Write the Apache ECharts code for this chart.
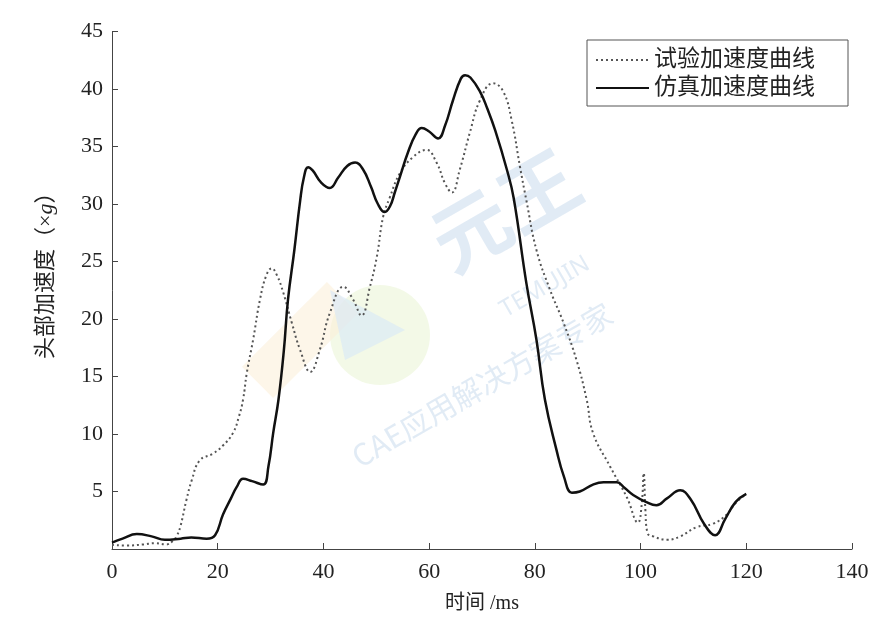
<!DOCTYPE html>
<html>
<head>
<meta charset="utf-8">
<script src="https://cdn.jsdelivr.net/npm/echarts@6/dist/echarts.min.js"></script>
<style>html,body{margin:0;padding:0;background:#fff;}#c{width:893px;height:640px;}</style>
</head>
<body>
<div id="c"></div>
<script>
// ---- data ----
const seriesNames = ['试验加速度曲线', '仿真加速度曲线'];
const xTicks = [0, 20, 40, 60, 80, 100, 120, 140];
const yTicks = [5, 10, 15, 20, 25, 30, 35, 40, 45];

const testTime = [0, 3, 6, 8, 10.3, 11.5, 12.2, 12.9, 14.1, 15.1, 16.6, 19.1, 21, 22.9, 24, 24.8, 25.5, 26.7, 28, 29.2, 30.2, 31.2, 32.4, 34, 35.6, 37.5, 39.3, 41.2, 43.8, 45.6, 47.2, 48.8, 50.1, 51.3, 52.5, 54.5, 57, 59.5, 61.4, 63, 64.3, 65.8, 67.7, 69.6, 72.1, 74, 75.6, 77.2, 78.4, 80.3, 82.9, 85.4, 87.9, 89.8, 91, 94.2, 97.4, 99.5, 100.2, 100.6, 100.9, 101.3, 102.4, 105, 107.5, 110.6, 113.7, 116.3, 118, 120];
const testAccel = [0.35, 0.3, 0.4, 0.5, 0.4, 0.7, 1.1, 1.9, 4.3, 6.0, 7.7, 8.3, 9.0, 10.1, 11.5, 13, 15.3, 18.2, 21.7, 23.8, 24.4, 23.8, 22.3, 19.7, 17.3, 15.4, 17.3, 20.5, 22.8, 21.7, 20.3, 22.8, 25.4, 28.9, 30.5, 32.7, 34.1, 34.7, 33.6, 31.8, 31.0, 33, 36.2, 39, 40.5, 39.8, 37.3, 33.2, 30.3, 26, 22.5, 19.7, 16.4, 13.0, 10.1, 7.2, 4.5, 2.3, 3.8, 6.6, 3.5, 1.4, 1.1, 0.8, 1.1, 1.9, 2.2, 3.0, 4.0, 4.8];

const simTime = [0, 2, 4.7, 7.5, 10, 13, 15, 17.9, 19.5, 21, 22.5, 23.6, 24.8, 26.5, 28.6, 29.6, 30.5, 31.5, 32.5, 33.3, 34.5, 35.6, 36.3, 37.1, 38, 39.5, 41.2, 42.8, 44.5, 46, 47.5, 49, 50.3, 51.6, 52.6, 53.5, 54.5, 56, 57.5, 58.6, 60, 61.7, 63, 64.5, 66, 66.8, 67.8, 69.6, 71, 72.5, 74.7, 76, 78.4, 80.3, 81.9, 84.1, 85.5, 87, 88.5, 91, 93, 95.5, 97, 98.6, 101, 103, 105, 107.5, 109.5, 112, 114.1, 116, 118, 120];
const simAccel = [0.55, 0.9, 1.3, 1.1, 0.8, 0.9, 1.0, 0.9, 1.2, 3.0, 4.4, 5.4, 6.1, 5.9, 5.6, 7.2, 10.1, 13, 17.2, 21.7, 26, 30.3, 32.3, 33.2, 32.9, 31.9, 31.4, 32.3, 33.3, 33.6, 33.0, 31.5, 30.0, 29.3, 29.8, 31.0, 32.4, 34.5, 36.1, 36.6, 36.3, 35.7, 36.8, 39, 40.9, 41.2, 41.0, 39.8, 38.3, 36.4, 33, 30.5, 23.1, 18.2, 13.0, 8.6, 6.3, 4.9, 5.0, 5.6, 5.8, 5.8, 5.3, 4.7, 4.1, 3.8, 4.4, 5.1, 4.3, 2.2, 1.2, 2.6, 4.1, 4.8];

const zip = (a, b) => a.map((v, i) => [v, b[i]]);

const serif = "'Liberation Serif', 'Noto Sans CJK SC', serif";
const wmColor = 'rgba(180,205,230,0.4)';

const chart = echarts.init(document.getElementById('c'), null, {renderer: 'canvas'});
chart.setOption({
  animation: false,
  backgroundColor: '#fff',
  grid: {left: 112, right: 41, top: 31.5, bottom: 91},
  graphic: [
    {type: 'circle', shape: {cx: 380, cy: 335, r: 50}, style: {fill: 'rgba(235,245,215,0.6)'}, z: -1},
    {type: 'rect', shape: {x: -60, y: -22, width: 120, height: 44}, x: 300, y: 340, rotation: Math.PI / 4, style: {fill: 'rgba(252,238,215,0.55)'}, z: -1},
    {type: 'polygon', shape: {points: [[330, 290], [345, 360], [405, 330]]}, style: {fill: 'rgba(215,232,248,0.6)'}, z: -1},
    {type: 'text', x: 505, y: 210, rotation: Math.PI / 6, style: {text: '元王', font: "bold 78px 'Noto Sans CJK SC'", fill: wmColor, align: 'center', verticalAlign: 'middle'}, z: -1},
    {type: 'text', x: 545, y: 287, rotation: Math.PI / 6, style: {text: 'TEMUJIN', font: "24px 'Noto Sans', sans-serif", fill: wmColor, align: 'center', verticalAlign: 'middle'}, z: -1},
    {type: 'text', x: 482, y: 385, rotation: Math.PI / 6, style: {text: 'CAE应用解决方案专家', font: "30px 'Noto Sans CJK SC'", fill: wmColor, align: 'center', verticalAlign: 'middle'}, z: -1}
  ],
  legend: {
    left: 587, top: 40,
    orient: 'vertical',
    data: seriesNames,
    itemWidth: 53, itemHeight: 14, itemGap: 4,
    padding: [8, 33, 6, 8],
    borderColor: '#555', borderWidth: 1,
    backgroundColor: '#fff',
    itemStyle: {opacity: 0},
    textStyle: {fontFamily: serif, fontSize: 23, color: '#222', lineHeight: 24}
  },
  xAxis: {
    type: 'value', min: 0, max: 140, interval: 20,
    name: '时间 /ms', nameLocation: 'middle', nameGap: 45,
    nameTextStyle: {fontFamily: serif, fontSize: 20, color: '#222'},
    axisLine: {show: true, lineStyle: {color: '#444', width: 1}},
    axisTick: {show: true, inside: true, length: 6, lineStyle: {color: '#444'}},
    axisLabel: {fontFamily: serif, fontSize: 22, color: '#222', margin: 12,
      formatter: v => xTicks.includes(v) ? String(v) : ''},
    splitLine: {show: false}
  },
  yAxis: {
    type: 'value', min: 0, max: 45, interval: 5,
    name: '头部加速度（×{i|g}）', nameLocation: 'middle', nameGap: 55,
    nameTextStyle: {fontFamily: serif, fontSize: 22, color: '#222', padding: [0, 0, 0, 40],
      rich: {i: {fontFamily: serif, fontStyle: 'italic', fontSize: 22, color: '#222'}}},
    axisLine: {show: true, lineStyle: {color: '#444', width: 1}},
    axisTick: {show: true, inside: true, length: 6, lineStyle: {color: '#444'}},
    axisLabel: {fontFamily: serif, fontSize: 22, color: '#222', margin: 9,
      formatter: v => yTicks.includes(v) ? String(v) : ''},
    splitLine: {show: false}
  },
  series: [
    {
      name: seriesNames[0], type: 'line', data: zip(testTime, testAccel),
      smooth: 0.45, symbol: 'none', itemStyle: {color: '#555'},
      lineStyle: {color: '#555', width: 2, type: [2, 3]}, z: 2
    },
    {
      name: seriesNames[1], type: 'line', data: zip(simTime, simAccel),
      smooth: 0.45, symbol: 'none', itemStyle: {color: '#111'},
      lineStyle: {color: '#111', width: 2.5, type: 'solid'}, z: 3
    }
  ]
});
</script>
</body>
</html>
